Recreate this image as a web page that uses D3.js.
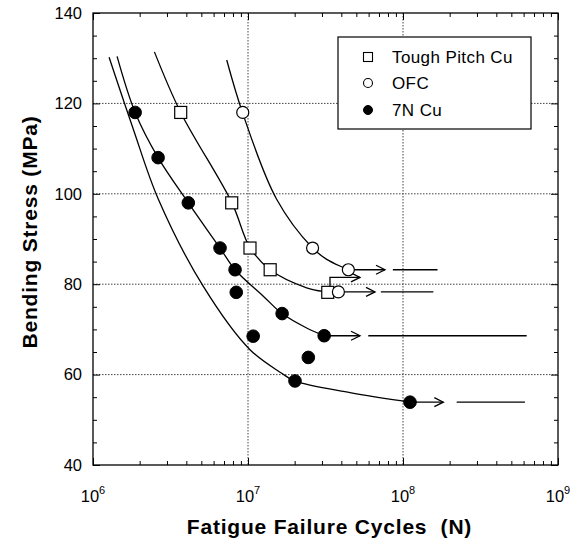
<!DOCTYPE html>
<html>
<head>
<meta charset="utf-8">
<script src="https://cdn.jsdelivr.net/npm/d3@7"></script>
<style>
  html, body { margin: 0; padding: 0; background: #fff; }
  svg { display: block; font-family: "Liberation Sans", Arial, Helvetica, sans-serif; }
</style>
</head>
<body>
<svg id="chart" width="588" height="543"></svg>
<script>
// ---------- data ----------
const xDecades = [1e6, 1e7, 1e8, 1e9];
const xDecadeExp = ["6", "7", "8", "9"];
const yTicks = [40, 60, 80, 100, 120, 140];
const xGrid = [1e7, 1e8];
const yGrid = [60, 80, 100, 120];

const seriesNames = ["Tough Pitch Cu", "OFC", "7N Cu"];

// Tough Pitch Cu (open squares)
const toughN = [3.68e6, 7.85e6, 1.03e7, 1.39e7, 3.27e7];
const toughS = [118, 98, 88, 83.2, 78.2];
// OFC (open circles)
const ofcN = [9.25e6, 2.61e7, 4.44e7, 3.83e7];
const ofcS = [118, 88, 83.2, 78.3];
// 7N Cu (filled circles)
const n7N = [1.87e6, 2.63e6, 4.12e6, 6.6e6, 8.25e6, 8.4e6, 1.08e7, 1.66e7, 3.1e7, 2.45e7, 2.01e7, 1.11e8];
const n7S = [118, 108, 98, 88, 83.2, 78.2, 68.5, 73.5, 68.6, 63.8, 58.6, 53.9];

// fitted S-N curves
const curveA_N = [1.27e6, 1.82e6, 2.64e6, 5.15e6, 1.03e7, 1.65e7, 2.0e7, 4.55e7, 1.11e8];
const curveA_S = [130.2, 114.3, 98.8, 79.5, 65.5, 60.3, 58.6, 56, 53.9];
const curveB_N = [1.43e6, 1.87e6, 2.63e6, 4.12e6, 6.6e6, 8.25e6, 1.26e7, 1.66e7, 2.39e7, 3.1e7];
const curveB_S = [130.4, 118, 108, 98, 88, 83.2, 77.3, 73.5, 70.3, 68.6];
const curveC_N = [2.49e6, 3.68e6, 7.85e6, 1.03e7, 1.39e7, 2.39e7, 3.05e7];
const curveC_S = [131.4, 118, 98.1, 88.1, 83.2, 79.2, 78.4];
const curveD_N = [7.29e6, 9.25e6, 1.53e7, 2.61e7, 3.22e7, 4.44e7];
const curveD_S = [129.6, 117.8, 98.8, 88, 85.5, 83.2];

// run-out (no failure) arrows
const runStartN = [4.44e7, 3.83e7, 3.1e7, 1.11e8];
const runS = [83.2, 78.3, 68.6, 53.9];
const runArrowEndN = [7.65e7, 6.6e7, 5.28e7, 1.82e8];
const runLineStartN = [8.6e7, 7.2e7, 5.97e7, 2.22e8];
const runLineEndN = [1.67e8, 1.57e8, 6.28e8, 6.12e8];
// bent run-out arrow (Tough Pitch Cu)
const bentN = [3.38e7, 3.38e7, 5.28e7];
const bentS = [79.6, 81.5, 81.5];

// ---------- layout ----------
const svg = d3.select("#chart");
const L = 93, R = 558, T = 13, B = 465;
const x = d3.scaleLog().domain([1e6, 1e9]).range([L, R]);
const y = d3.scaleLinear().domain([40, 140]).range([B, T]);

// grid
const grid = svg.append("g").attr("stroke", "#444").attr("stroke-width", 1)
  .attr("stroke-dasharray", "1.5,1.5");
grid.selectAll(".gx").data(xGrid).join("line")
  .attr("x1", d => x(d)).attr("x2", d => x(d)).attr("y1", T).attr("y2", B);
grid.selectAll(".gy").data(yGrid).join("line")
  .attr("x1", L).attr("x2", R).attr("y1", d => y(d)).attr("y2", d => y(d));

// minor ticks
const xMinor = [];
for (let e = 6; e < 9; e++) for (let m = 2; m <= 9; m++) xMinor.push(m * Math.pow(10, e));
const yMinor = d3.range(45, 140, 5).filter(v => v % 20 !== 0);

function tickAxes() {
  const g = svg.append("g");
  g.append("g").attr("transform", `translate(0,${B})`)
    .call(d3.axisBottom(x).tickValues(xMinor).tickSize(-4).tickFormat(""));
  g.append("g").attr("transform", `translate(0,${B})`)
    .call(d3.axisBottom(x).tickValues(xDecades).tickSize(-7).tickFormat(""));
  g.append("g").attr("transform", `translate(0,${T})`)
    .call(d3.axisTop(x).tickValues(xMinor).tickSize(-4).tickFormat(""));
  g.append("g").attr("transform", `translate(0,${T})`)
    .call(d3.axisTop(x).tickValues(xDecades).tickSize(-7).tickFormat(""));
  g.append("g").attr("transform", `translate(${L},0)`)
    .call(d3.axisLeft(y).tickValues(yMinor).tickSize(-4).tickFormat(""));
  g.append("g").attr("transform", `translate(${L},0)`)
    .call(d3.axisLeft(y).tickValues(yTicks).tickSize(-7).tickFormat(""));
  g.append("g").attr("transform", `translate(${R},0)`)
    .call(d3.axisRight(y).tickValues(yMinor).tickSize(-4).tickFormat(""));
  g.append("g").attr("transform", `translate(${R},0)`)
    .call(d3.axisRight(y).tickValues(yTicks).tickSize(-7).tickFormat(""));
  g.selectAll(".domain").remove();
  g.selectAll("line").attr("stroke", "#000").attr("stroke-width", 1);
}
tickAxes();

// frame
svg.append("rect").attr("x", L).attr("y", T).attr("width", R - L).attr("height", B - T)
  .attr("fill", "none").attr("stroke", "#000").attr("stroke-width", 1.3);

// y tick labels
svg.append("g").selectAll("text").data(yTicks).join("text")
  .attr("x", L - 11).attr("y", d => y(d)).attr("dy", "0.35em")
  .attr("text-anchor", "end").attr("font-size", 16.5).text(d => d);

// x tick labels with superscripts
const xl = svg.append("g").selectAll("text").data(xDecades).join("text")
  .attr("x", d => x(d)).attr("y", B + 37).attr("text-anchor", "middle").attr("font-size", 16.5);
xl.append("tspan").text("10");
xl.append("tspan").attr("dy", -8).attr("font-size", 11).text((d, i) => xDecadeExp[i]);

// axis titles
svg.append("text").attr("x", (L + R) / 2 + 4).attr("y", 534).attr("text-anchor", "middle")
  .attr("font-size", 21).attr("font-weight", "bold").attr("letter-spacing", 0.8)
  .attr("xml:space", "preserve").text("Fatigue Failure Cycles  (N)");
svg.append("text").attr("transform", `translate(37,232) rotate(-90)`)
  .attr("text-anchor", "middle").attr("font-size", 21).attr("font-weight", "bold")
  .attr("letter-spacing", 0.8).text("Bending Stress (MPa)");

// curves
const line = d3.line().x(d => x(d[0])).y(d => y(d[1])).curve(d3.curveCatmullRom.alpha(0.5));
const curves = [[curveA_N, curveA_S], [curveB_N, curveB_S], [curveC_N, curveC_S], [curveD_N, curveD_S]];
svg.append("g").selectAll("path").data(curves).join("path")
  .attr("d", c => line(c[0].map((n, i) => [n, c[1][i]])))
  .attr("fill", "none").attr("stroke", "#000").attr("stroke-width", 1.3);

// run-out arrows
const ra = svg.append("g").attr("stroke", "#000").attr("stroke-width", 1.3).attr("fill", "none");
function chevron(px, py) {
  return `M${px - 9},${py - 4.5} L${px},${py} L${px - 9},${py + 4.5}`;
}
runS.forEach((s, i) => {
  ra.append("line").attr("x1", x(runStartN[i])).attr("x2", x(runArrowEndN[i]))
    .attr("y1", y(s)).attr("y2", y(s));
  ra.append("path").attr("d", chevron(x(runArrowEndN[i]), y(s)));
  ra.append("line").attr("x1", x(runLineStartN[i])).attr("x2", x(runLineEndN[i]))
    .attr("y1", y(s)).attr("y2", y(s));
});
ra.append("path").attr("d", d3.line()(bentN.map((n, i) => [x(n), y(bentS[i])])));
ra.append("path").attr("d", chevron(x(bentN[2]), y(bentS[2])));

// markers
const mk = svg.append("g");
mk.selectAll(".sq").data(toughN.map((n, i) => [n, toughS[i]])).join("rect")
  .attr("x", d => x(d[0]) - 6).attr("y", d => y(d[1]) - 6).attr("width", 12).attr("height", 12)
  .attr("fill", "#fff").attr("stroke", "#000").attr("stroke-width", 1.2);
mk.selectAll(".oc").data(ofcN.map((n, i) => [n, ofcS[i]])).join("circle")
  .attr("cx", d => x(d[0])).attr("cy", d => y(d[1])).attr("r", 6)
  .attr("fill", "#fff").attr("stroke", "#000").attr("stroke-width", 1.2);
mk.selectAll(".fc").data(n7N.map((n, i) => [n, n7S[i]])).join("circle")
  .attr("cx", d => x(d[0])).attr("cy", d => y(d[1])).attr("r", 6.3)
  .attr("fill", "#000").attr("stroke", "#000").attr("stroke-width", 1);

// legend
const lg = svg.append("g");
lg.append("rect").attr("x", 338).attr("y", 37).attr("width", 193).attr("height", 92)
  .attr("fill", "#fff").attr("stroke", "#000").attr("stroke-width", 1.2);
const rows = [57, 83, 110];
lg.append("rect").attr("x", 368 - 4.5).attr("y", rows[0] - 4.5).attr("width", 9).attr("height", 9)
  .attr("fill", "#fff").attr("stroke", "#000").attr("stroke-width", 1.1);
lg.append("circle").attr("cx", 368).attr("cy", rows[1]).attr("r", 4.5)
  .attr("fill", "#fff").attr("stroke", "#000").attr("stroke-width", 1.1);
lg.append("circle").attr("cx", 368).attr("cy", rows[2]).attr("r", 4.5)
  .attr("fill", "#000").attr("stroke", "#000");
lg.selectAll("text").data(seriesNames).join("text")
  .attr("x", 392).attr("y", (d, i) => rows[i]).attr("dy", "0.36em")
  .attr("font-size", 17).attr("letter-spacing", 0.4).text(d => d);
</script>
</body>
</html>
